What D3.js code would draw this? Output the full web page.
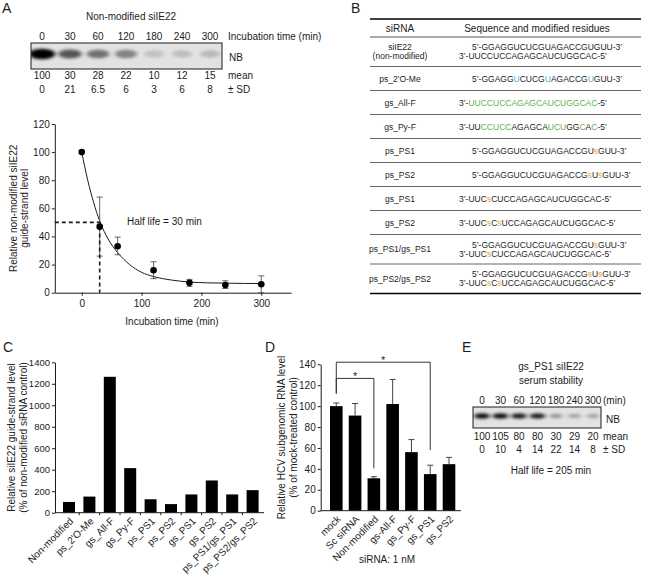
<!DOCTYPE html>
<html><head><meta charset="utf-8">
<script src="https://cdn.jsdelivr.net/npm/d3@7"></script>
<style>body{margin:0;background:#fff}</style>
</head><body>
<svg id="fig" width="648" height="578"></svg>
<script>
// ---------------- DATA ----------------
// Panel A – gel (non-modified siIE22)
const gelTimesA = [0, 30, 60, 120, 180, 240, 300];
const gelMeanA = ["100", "30", "28", "22", "10", "12", "15"];
const gelSdA = ["0", "21", "6.5", "6", "3", "6", "8"];
const bandIntensityA = [1.0, 0.62, 0.5, 0.42, 0.14, 0.16, 0.18];

// Panel A – decay plot
const decayTime = [0, 30, 60, 120, 180, 240, 300];
const decayMean = [100, 47, 33, 16, 7, 5.5, 6];
const decayLow = [100, 26, 27, 10, 4.5, 3, 0];
const decayHigh = [100, 68, 39.5, 22, 9.5, 8.5, 12];
const fitTime = [0, 10, 20, 30, 45, 60, 80, 100, 120, 150, 180, 210, 240, 270, 300];
const fitLevel = [100, 80, 64, 51, 37.5, 28.5, 20, 14.5, 11.5, 9, 7.6, 7, 6.8, 6.6, 6.5];
const halfLifeA = 30;
const xTicksA = [0, 100, 200, 300];
const yTicksA = [0, 20, 40, 60, 80, 100, 120];

// Panel B – table
const tableNames = [["siIE22", "(non-modified)"], ["ps_2'O-Me"], ["gs_All-F"], ["gs_Py-F"], ["ps_PS1"], ["ps_PS2"], ["gs_PS1"], ["gs_PS2"], ["ps_PS1/gs_PS1"], ["ps_PS2/gs_PS2"]];
const tableSeqs = [
  ["5’-GGAGGUCUCGUAGACCGUGUU-3’", "3’-UUCCUCCAGAGCAUCUGGCAC-5’"],
  ["5’-GGAGG{bU}CUCG{bU}AGACCG{bU}GUU-3’"],
  ["3’-{gUUCCUCCAGAGCAUCUGGCAC}-5’"],
  ["3’-UU{gCCUCC}AGAGCA{gUCU}GG{gC}A{gC}-5’"],
  ["5’-GGAGGUCUCGUAGACCGU{os}GUU-3’"],
  ["5’-GGAGGUCUCGUAGACCG{os}U{os}GUU-3’"],
  ["3’-UUC{os}CUCCAGAGCAUCUGGCAC-5’"],
  ["3’-UUC{os}C{os}UCCAGAGCAUCUGGCAC-5’"],
  ["5’-GGAGGUCUCGUAGACCGU{os}GUU-3’", "3’-UUC{os}CUCCAGAGCAUCUGGCAC-5’"],
  ["5’-GGAGGUCUCGUAGACCG{os}U{os}GUU-3’", "3’-UUC{os}C{os}UCCAGAGCAUCUGGCAC-5’"]
];
const tableHeaders = ["siRNA", "Sequence and modified residues"];

// Panel C
const cCats = ["Non-modified", "ps_2'O-Me", "gs_All-F", "gs_Py-F", "ps_PS1", "ps_PS2", "gs_PS1", "gs_PS2", "ps_PS1/gs_PS1", "ps_PS2/gs_PS2"];
const cValues = [100, 150, 1265, 415, 125, 80, 170, 300, 170, 210];
const cTicks = [0, 200, 400, 600, 800, 1000, 1200, 1400];

// Panel D
const dCats = ["mock", "Sc siRNA", "Non-modified", "gs-All-F", "gs_Py-F", "gs_PS1", "gs_PS2"];
const dValues = [100, 91, 31, 102, 56, 35, 44.5];
const dErr = [3, 11.5, 1.5, 23.5, 12, 8.5, 6.5];
const dTicks = [0, 20, 40, 60, 80, 100, 120, 140];
const dSignif = [
  {a: "mock", b: "Non-modified", level: 126.5, dropA: 112, dropB: 40.5, label: "*"},
  {a: "mock", b: "gs_PS1", level: 142, dropA: 112, dropB: 58, label: "*"}
];

// Panel E
const gelTimesE = [0, 30, 60, 120, 180, 240, 300];
const gelMeanE = ["100", "105", "80", "80", "30", "29", "20"];
const gelSdE = ["0", "10", "4", "14", "22", "14", "8"];
const bandIntensityE = [0.92, 0.92, 0.85, 0.85, 0.35, 0.28, 0.28];

// ---------------- DRAW ----------------
const ink = "#1c1c1c";
const svg = d3.select("#fig")
  .attr("font-family", '"Liberation Sans", Arial, Helvetica, sans-serif')
  .attr("fill", ink);
const defs = svg.append("defs");
defs.append("filter").attr("id", "blur").attr("x", "-50%").attr("y", "-150%").attr("width", "200%").attr("height", "400%")
  .append("feGaussianBlur").attr("stdDeviation", "2.2 1.6");

function letter(t, x, y) {
  svg.append("text").attr("x", x).attr("y", y).attr("font-size", 14).text(t);
}
letter("A", 2, 13); letter("B", 351, 13); letter("C", 3, 352); letter("D", 265, 352); letter("E", 462, 352);

function styleAxis(g) {
  g.attr("font-family", null).attr("font-size", null);
  g.selectAll("path,line").attr("stroke", ink).attr("stroke-width", 1);
  g.selectAll("text").attr("fill", ink).attr("font-size", 10);
}

function drawGel(id, lane, times, intensity, box, bandY, bandW, bandH) {
  const g = svg.append("g");
  defs.append("clipPath").attr("id", id).append("rect")
    .attr("x", box.x).attr("y", box.y).attr("width", box.w).attr("height", box.h);
  g.append("rect").attr("x", box.x).attr("y", box.y).attr("width", box.w).attr("height", box.h).attr("fill", "#e2e2e2");
  const gb = g.append("g").attr("clip-path", `url(#${id})`);
  gb.selectAll("ellipse").data(times).join("ellipse")
    .attr("cx", d => lane(d)).attr("cy", bandY)
    .attr("rx", (d, i) => bandW / 2 * (0.8 + 0.3 * intensity[i]))
    .attr("ry", (d, i) => bandH / 2 * (0.75 + 0.4 * intensity[i]))
    .attr("fill", "#000").attr("opacity", (d, i) => intensity[i])
    .attr("filter", "url(#blur)");
  g.append("rect").attr("x", box.x).attr("y", box.y).attr("width", box.w).attr("height", box.h)
    .attr("fill", "none").attr("stroke", ink).attr("stroke-width", 1);
}

function textRow(values, lane, keys, y) {
  svg.append("g").selectAll("text").data(values).join("text")
    .attr("x", (d, i) => lane(keys[i])).attr("y", y)
    .attr("text-anchor", "middle").attr("font-size", 10).text(d => d);
}

const intFmt = d3.format("d");

// ----- Panel A gel -----
const laneA = d3.scalePoint().domain(gelTimesA).range([42, 210]);
svg.append("text").attr("x", 131).attr("y", 20).attr("text-anchor", "middle").attr("font-size", 10).text("Non-modified siIE22");
textRow(gelTimesA, laneA, gelTimesA, 40);
svg.append("text").attr("x", 228).attr("y", 40).attr("font-size", 10).text("Incubation time (min)");
drawGel("clipA", laneA, gelTimesA, bandIntensityA, {x: 31, y: 43, w: 191, h: 26}, 54, 24, 9);
svg.append("text").attr("x", 229).attr("y", 61).attr("font-size", 10).text("NB");
textRow(gelMeanA, laneA, gelTimesA, 79);
svg.append("text").attr("x", 228).attr("y", 79).attr("font-size", 10).text("mean");
textRow(gelSdA, laneA, gelTimesA, 93);
svg.append("text").attr("x", 228).attr("y", 93).attr("font-size", 10).text("± SD");

// ----- Panel A plot -----
const xA = d3.scaleLinear().domain([-45, 350]).range([54.8, 291.2]);
const yA = d3.scaleLinear().domain([0, 120]).range([292.7, 124]);
const gPA = svg.append("g");
gPA.append("g").attr("transform", `translate(0,${yA(0)})`)
  .call(d3.axisBottom(xA).tickValues(xTicksA).tickFormat(intFmt).tickSize(3).tickSizeOuter(0).tickPadding(4)).call(styleAxis);
gPA.append("g").attr("transform", `translate(${xA(-45)},0)`)
  .call(d3.axisLeft(yA).tickValues(yTicksA).tickFormat(intFmt).tickSize(3).tickSizeOuter(0).tickPadding(2)).call(styleAxis);
// fit curve
gPA.append("path").datum(fitTime.map((t, i) => [t, fitLevel[i]]))
  .attr("d", d3.line().x(d => xA(d[0])).y(d => yA(d[1])).curve(d3.curveMonotoneX))
  .attr("fill", "none").attr("stroke", ink).attr("stroke-width", 1);
// error bars
decayTime.forEach((t, i) => {
  if (decayHigh[i] === decayLow[i]) return;
  const x = xA(t);
  const eg = gPA.append("g").attr("stroke", "#555").attr("stroke-width", 0.9);
  eg.append("line").attr("x1", x).attr("x2", x).attr("y1", yA(decayLow[i])).attr("y2", yA(decayHigh[i]));
  eg.append("line").attr("x1", x - 3).attr("x2", x + 3).attr("y1", yA(decayHigh[i])).attr("y2", yA(decayHigh[i]));
  eg.append("line").attr("x1", x - 3).attr("x2", x + 3).attr("y1", yA(decayLow[i])).attr("y2", yA(decayLow[i]));
});
// dashed half-life guides
gPA.append("path")
  .attr("d", `M${xA(-45)},${yA(50)}H${xA(halfLifeA)}V${yA(0)}`)
  .attr("fill", "none").attr("stroke", ink).attr("stroke-width", 1.6).attr("stroke-dasharray", "4,3");
gPA.selectAll("circle").data(decayTime).join("circle")
  .attr("cx", d => xA(d)).attr("cy", (d, i) => yA(decayMean[i])).attr("r", 3.3).attr("fill", "#000");
gPA.append("text").attr("x", 127).attr("y", 225).attr("font-size", 10).text(`Half life = ${halfLifeA} min`);
gPA.append("text").attr("x", 172).attr("y", 325).attr("text-anchor", "middle").attr("font-size", 10).text("Incubation time (min)");
gPA.append("text").attr("transform", `translate(16.5,${(yA(0) + yA(120)) / 2}) rotate(-90)`)
  .attr("text-anchor", "middle").attr("font-size", 10).text("Relative non-modified siIE22");
gPA.append("text").attr("transform", `translate(28,${(yA(0) + yA(120)) / 2}) rotate(-90)`)
  .attr("text-anchor", "middle").attr("font-size", 10).text("guide-strand level");

// ----- Panel B table -----
const colors = {b: "#4cb1e3", g: "#5db34a", o: "#eda535"};
const gB = svg.append("g");
const tX0 = 370, tX1 = 641;
gB.append("line").attr("x1", tX0).attr("x2", tX1).attr("y1", 19).attr("y2", 19).attr("stroke", "#000").attr("stroke-width", 1.5);
gB.append("text").attr("x", 400).attr("y", 31.5).attr("text-anchor", "middle").attr("font-size", 10).text(tableHeaders[0]);
gB.append("text").attr("x", 537).attr("y", 31.5).attr("text-anchor", "middle").attr("font-size", 10).text(tableHeaders[1]);
let yCur = 37;
gB.append("line").attr("x1", tX0).attr("x2", tX1).attr("y1", yCur).attr("y2", yCur).attr("stroke", "#555").attr("stroke-width", 1);
tableNames.forEach((names, i) => {
  const seqs = tableSeqs[i];
  const nLines = Math.max(names.length, seqs.length);
  const h = nLines === 1 ? 24 : 29.5;
  const cy = yCur + h / 2;
  names.forEach((n, k) => {
    gB.append("text").attr("x", 400).attr("y", cy + 3 + (k - (names.length - 1) / 2) * 9)
      .attr("text-anchor", "middle").attr("font-size", 8.5).text(n);
  });
  seqs.forEach((s, k) => {
    const x = s.startsWith("5") ? 472 : 459;
    const t = gB.append("text").attr("x", x).attr("y", cy + 3 + (k - (seqs.length - 1) / 2) * 9).attr("font-size", 8.5);
    s.split(/(\{[bgo][^}]*\})/).filter(p => p.length).forEach(p => {
      const m = p.match(/^\{([bgo])([^}]*)\}$/);
      if (m) t.append("tspan").attr("fill", colors[m[1]]).text(m[2]);
      else t.append("tspan").text(p);
    });
  });
  yCur += h;
  const last = i === tableNames.length - 1;
  gB.append("line").attr("x1", tX0).attr("x2", tX1).attr("y1", yCur).attr("y2", yCur)
    .attr("stroke", last ? "#000" : "#666").attr("stroke-width", last ? 1.5 : 1);
});

// ----- Panel C -----
const xC = d3.scalePoint().domain(cCats).range([58.8, 262.8]).padding(0.5);
const yC = d3.scaleLinear().domain([0, 1400]).range([512.7, 362.3]);
const gC = svg.append("g");
gC.selectAll("rect").data(cCats).join("rect")
  .attr("x", d => xC(d) - 6).attr("width", 12)
  .attr("y", (d, i) => yC(cValues[i])).attr("height", (d, i) => yC(0) - yC(cValues[i]))
  .attr("fill", "#000");
gC.append("g").attr("transform", "translate(55,0)")
  .call(d3.axisLeft(yC).tickValues(cTicks).tickFormat(intFmt).tickSize(3).tickSizeOuter(0).tickPadding(2)).call(styleAxis);
gC.selectAll("g.tick text").attr("font-size", 9.5);
gC.append("line").attr("x1", 55).attr("x2", 264).attr("y1", yC(0)).attr("y2", yC(0)).attr("stroke", ink);
gC.selectAll(".bt").data(cCats.slice(0, -1)).join("line")
  .attr("x1", d => xC(d) + xC.step() / 2).attr("x2", d => xC(d) + xC.step() / 2)
  .attr("y1", yC(0)).attr("y2", yC(0) + 2.5).attr("stroke", ink);
gC.selectAll(".xl").data(cCats).join("text")
  .attr("transform", d => `translate(${xC(d) + 5},${yC(0) + 9}) rotate(-45)`)
  .attr("text-anchor", "end").attr("font-size", 10).text(d => d);
gC.append("text").attr("transform", `translate(15,${(yC(0) + yC(1400)) / 2}) rotate(-90)`)
  .attr("text-anchor", "middle").attr("font-size", 10).text("Relative siIE22 guide-strand level");
gC.append("text").attr("transform", `translate(26.5,${(yC(0) + yC(1400)) / 2}) rotate(-90)`)
  .attr("text-anchor", "middle").attr("font-size", 10).text("(% of non-modified siRNA control)");

// ----- Panel D -----
const xD = d3.scalePoint().domain(dCats).range([326.9, 458.4]).padding(0.5);
const yD = d3.scaleLinear().domain([0, 140]).range([510.7, 364.3]);
const gD = svg.append("g");
gD.selectAll("rect").data(dCats).join("rect")
  .attr("x", d => xD(d) - 6.3).attr("width", 12.6)
  .attr("y", (d, i) => yD(dValues[i])).attr("height", (d, i) => yD(0) - yD(dValues[i]))
  .attr("fill", "#000");
dCats.forEach((c, i) => {
  const x = xD(c), top = yD(dValues[i] + dErr[i]);
  gD.append("line").attr("x1", x).attr("x2", x).attr("y1", yD(dValues[i])).attr("y2", top).attr("stroke", "#444").attr("stroke-width", 1);
  gD.append("line").attr("x1", x - 3).attr("x2", x + 3).attr("y1", top).attr("y2", top).attr("stroke", "#444").attr("stroke-width", 1);
});
gD.append("g").attr("transform", "translate(320.7,0)")
  .call(d3.axisLeft(yD).tickValues(dTicks).tickFormat(intFmt).tickSize(3).tickSizeOuter(0).tickPadding(2)).call(styleAxis);
gD.append("line").attr("x1", 320.7).attr("x2", 461).attr("y1", yD(0)).attr("y2", yD(0)).attr("stroke", ink);
dSignif.forEach(s => {
  const xa = xD(s.a), xb = xD(s.b);
  gD.append("path").attr("d", `M${xa},${yD(s.dropA)}V${yD(s.level)}H${xb}V${yD(s.dropB)}`)
    .attr("fill", "none").attr("stroke", "#333").attr("stroke-width", 1);
  gD.append("text").attr("x", (xa + xb) / 2).attr("y", yD(s.level) + 1.5).attr("text-anchor", "middle").attr("font-size", 11).text(s.label);
});
gD.selectAll(".xl").data(dCats).join("text")
  .attr("transform", d => `translate(${xD(d) + 5},${yD(0) + 9}) rotate(-45)`)
  .attr("text-anchor", "end").attr("font-size", 10).text(d => d);
gD.append("text").attr("transform", `translate(285,${(yD(0) + yD(140)) / 2}) rotate(-90)`)
  .attr("text-anchor", "middle").attr("font-size", 10).text("Relative HCV subgenomic RNA level");
gD.append("text").attr("transform", `translate(296.5,${(yD(0) + yD(140)) / 2}) rotate(-90)`)
  .attr("text-anchor", "middle").attr("font-size", 10).text("(% of mock-treated control)");
gD.append("text").attr("x", 387).attr("y", 563).attr("text-anchor", "middle").attr("font-size", 10).text("siRNA: 1 nM");

// ----- Panel E -----
const laneE = d3.scalePoint().domain(gelTimesE).range([482, 593]);
svg.append("text").attr("x", 551).attr("y", 370).attr("text-anchor", "middle").attr("font-size", 10).text("gs_PS1 siIE22");
svg.append("text").attr("x", 551).attr("y", 383.5).attr("text-anchor", "middle").attr("font-size", 10).text("serum stability");
textRow(gelTimesE, laneE, gelTimesE, 404);
svg.append("text").attr("x", 603).attr("y", 404).attr("font-size", 10).text("(min)");
drawGel("clipE", laneE, gelTimesE, bandIntensityE, {x: 473, y: 407, w: 128, h: 21}, 416, 15, 5);
svg.append("text").attr("x", 606).attr("y", 423).attr("font-size", 10).text("NB");
textRow(gelMeanE, laneE, gelTimesE, 440);
svg.append("text").attr("x", 603).attr("y", 440).attr("font-size", 10).text("mean");
textRow(gelSdE, laneE, gelTimesE, 453);
svg.append("text").attr("x", 603).attr("y", 453).attr("font-size", 10).text("± SD");
svg.append("text").attr("x", 551).attr("y", 474).attr("text-anchor", "middle").attr("font-size", 10).text("Half life = 205 min");
</script>
</body></html>
